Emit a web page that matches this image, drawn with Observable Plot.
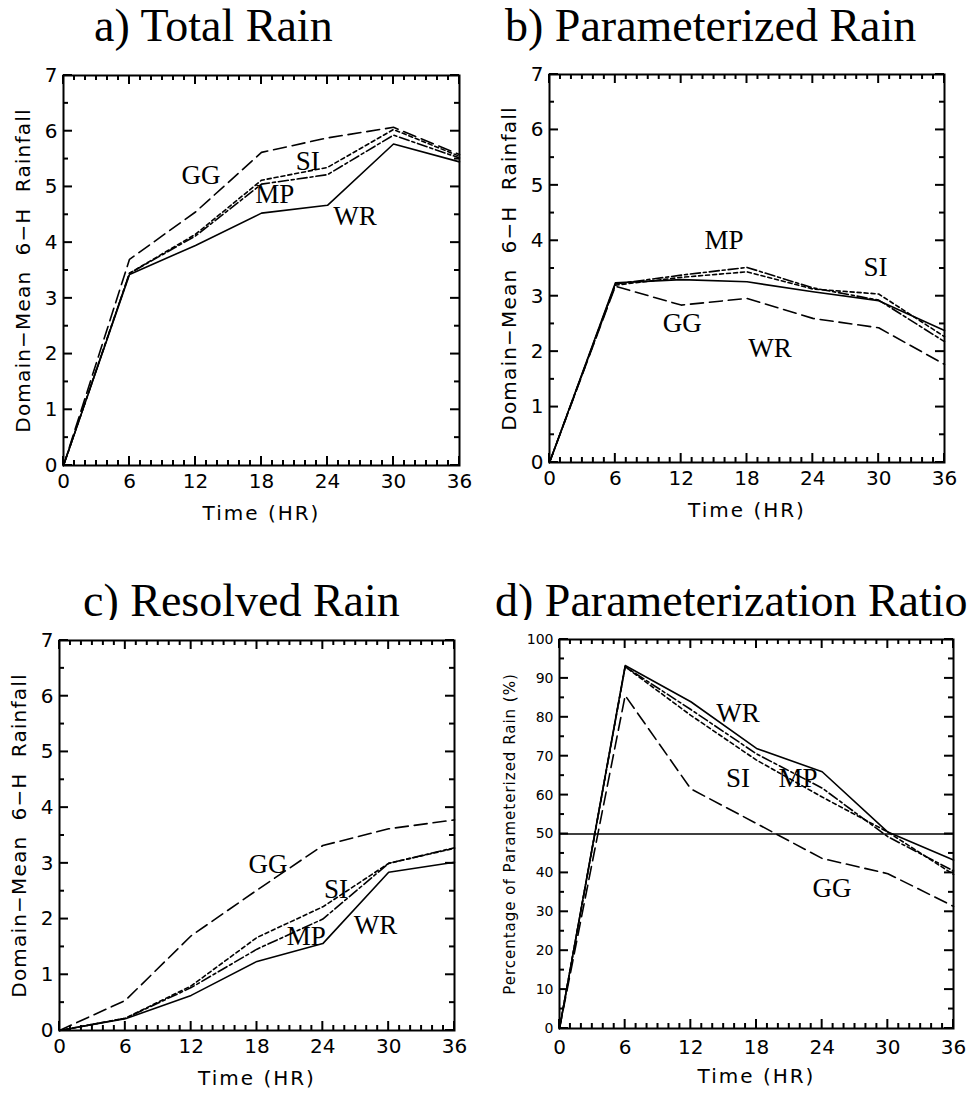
<!DOCTYPE html>
<html><head><meta charset="utf-8">
<script src="https://cdn.jsdelivr.net/npm/d3@7"></script>
<script src="https://cdn.jsdelivr.net/npm/@observablehq/plot@0.6"></script>
<style>
body{margin:0;background:#fff;width:974px;height:1094px;position:relative;overflow:hidden}
.title{position:absolute;font-family:"Liberation Serif","Times New Roman",serif;font-size:46px;line-height:46px;white-space:nowrap;color:#000}
.panel{position:absolute}
</style></head><body>
<div class="title" style="left:94px;top:3px">a) Total Rain</div>
<div class="title" style="left:505px;top:3px">b) Parameterized Rain</div>
<div class="title" style="left:83px;top:578px">c) Resolved Rain</div>
<div class="title" style="left:495px;top:578px">d) Parameterization Ratio</div>
<div id="pa" class="panel" style="left:0;top:60px"></div>
<div id="pb" class="panel" style="left:487px;top:60px"></div>
<div id="pc" class="panel" style="left:0;top:620px"></div>
<div id="pd" class="panel" style="left:487px;top:620px"></div>
<script>
// ---- data ----
const hours = [0, 6, 12, 18, 24, 30, 36];
const seriesNames = ["WR", "MP", "SI", "GG"];

const totalWR = [0, 3.43, 3.95, 4.53, 4.67, 5.77, 5.45];
const totalMP = [0, 3.45, 4.12, 5.05, 5.22, 5.93, 5.52];
const totalSI = [0, 3.45, 4.15, 5.12, 5.35, 6.03, 5.55];
const totalGG = [0, 3.70, 4.55, 5.62, 5.88, 6.07, 5.58];

const paramWR = [0, 3.24, 3.30, 3.26, 3.08, 2.92, 2.38];
const paramMP = [0, 3.22, 3.38, 3.52, 3.15, 2.93, 2.18];
const paramSI = [0, 3.20, 3.34, 3.44, 3.13, 3.04, 2.27];
const paramGG = [0, 3.18, 2.84, 2.96, 2.60, 2.43, 1.77];

const resolvedWR = [0, 0.21, 0.63, 1.24, 1.56, 2.84, 3.02];
const resolvedMP = [0, 0.22, 0.77, 1.46, 2.00, 3.00, 3.28];
const resolvedSI = [0, 0.22, 0.80, 1.67, 2.22, 3.00, 3.27];
const resolvedGG = [0, 0.54, 1.70, 2.52, 3.32, 3.62, 3.78];

const ratioWR = [0, 93.3, 84.0, 72.0, 66.0, 50.5, 43.3];
const ratioMP = [0, 93.0, 82.0, 70.6, 61.8, 49.3, 40.5];
const ratioSI = [0, 93.0, 80.5, 69.0, 59.5, 50.5, 39.6];
const ratioGG = [0, 85.6, 61.6, 52.7, 43.7, 39.8, 31.4];
const ratioRef = [50];

// tick values
const xMajor = [0, 6, 12, 18, 24, 30, 36];
const xMinor = d3.range(0, 37, 1).filter(v => v % 6 !== 0);
const rainMajor = [0, 1, 2, 3, 4, 5, 6, 7];
const rainMinor = [0.5, 1.5, 2.5, 3.5, 4.5, 5.5, 6.5];
const ratioMajor = [0, 10, 20, 30, 40, 50, 60, 70, 80, 90, 100];
const ratioMinor = [5, 15, 25, 35, 45, 55, 65, 75, 85, 95];

// curve label annotations (name, hour, value)
const labelsA = [["GG", 12.5, 5.06], ["SI", 22.2, 5.3], ["MP", 19.2, 4.72], ["WR", 26.5, 4.31]];
const labelsB = [["MP", 15.9, 3.86], ["SI", 29.7, 3.37], ["GG", 12.1, 2.35], ["WR", 20.1, 1.91]];
const labelsC = [["GG", 19.0, 2.82], ["SI", 25.2, 2.37], ["MP", 22.5, 1.53], ["WR", 28.8, 1.74]];
const labelsD = [["WR", 16.3, 78.7], ["SI", 16.3, 62.2], ["MP", 21.8, 62.2], ["GG", 24.9, 33.7]];

const dashes = {WR: null, MP: "10,3,3,3", SI: "4,3", GG: "13,6"};

function rows(vals) {
  return seriesNames.flatMap(s => hours.map((h, i) => ({series: s, t: h, v: vals[s][i]})));
}

function panel(o) {
  const innerH = o.height - o.mt - o.mb;
  const innerW = o.width - o.ml - o.mr;
  const data = rows(o.vals);
  const marks = [
    Plot.axisX(xMajor, {tickSize: 0, tickPadding: o.xPad, fontSize: 20, fontFamily: "DejaVu Sans", label: null, tickFormat: d3.format("d")}),
    Plot.axisY(o.yMajor, {tickSize: 0, tickPadding: 6, fontSize: o.yTickFont, fontFamily: "DejaVu Sans", label: null, tickFormat: d3.format("d")}),
    Plot.text(["Time (HR)"], {frameAnchor: "bottom", dy: 54, lineAnchor: "bottom", textAnchor: "middle", text: d => d, fontSize: 20, fontFamily: "DejaVu Sans"}),
    Plot.text([o.yLabel], {frameAnchor: "left", dx: o.yLabelDx, rotate: -90, textAnchor: "middle", lineAnchor: "middle", text: d => d, fontSize: o.yLabelFont, fontFamily: "DejaVu Sans"}),
  ];
  if (o.ref) marks.push(Plot.ruleY(o.ref, {stroke: "black", strokeWidth: 1.6}));
  for (const s of seriesNames) {
    marks.push(Plot.line(data.filter(d => d.series === s), {x: "t", y: "v", stroke: "black", strokeWidth: 1.6, strokeDasharray: dashes[s]}));
  }
  marks.push(Plot.text(o.labels, {x: d => d[1], y: d => d[2], text: d => d[0], lineAnchor: "bottom", fontSize: 27, fontFamily: "Liberation Serif"}));
  marks.push(Plot.frame({stroke: "black", strokeWidth: 2}));
  const svg = Plot.plot({
    width: o.width, height: o.height,
    marginTop: o.mt, marginRight: o.mr, marginBottom: o.mb, marginLeft: o.ml,
    x: {domain: [0, 36]},
    y: {domain: o.ydom},
    style: {background: "white", overflow: "visible", color: "black"},
    marks
  });
  d3.select(svg).selectAll("text").filter(function () { return this.textContent === "Time (HR)"; }).attr("letter-spacing", 2);
  d3.select(svg).selectAll("text").filter(function () { return this.textContent === o.yLabel; }).attr("letter-spacing", o.yLabelSpacing);

  // inward ticks on all four sides, positioned with the plot's own scales
  const sx = svg.scale("x"), sy = svg.scale("y");
  const X = v => sx.apply(v), Y = v => sy.apply(v);
  const left = o.ml, right = o.width - o.mr, top = o.mt, bottom = o.height - o.mb;
  const g = d3.select(svg).append("g").attr("stroke", "black").attr("stroke-width", 2).attr("aria-label", "inward ticks");
  const M = 9, m = 5;
  for (const [vals, len] of [[xMajor, M], [xMinor, m]]) {
    for (const v of vals) {
      g.append("line").attr("x1", X(v)).attr("x2", X(v)).attr("y1", bottom).attr("y2", bottom - len);
      g.append("line").attr("x1", X(v)).attr("x2", X(v)).attr("y1", top).attr("y2", top + len);
    }
  }
  for (const [vals, len] of [[o.yMajor, M], [o.yMinor, m]]) {
    for (const v of vals) {
      g.append("line").attr("y1", Y(v)).attr("y2", Y(v)).attr("x1", left).attr("x2", left + len);
      g.append("line").attr("y1", Y(v)).attr("y2", Y(v)).attr("x1", right).attr("x2", right - len);
    }
  }
  document.getElementById(o.el).appendChild(svg);
}

const rainLabel = "Domain\u2212Mean  6\u2212H  Rainfall";
panel({el: "pa", width: 480, height: 470, mt: 15, mr: 21, mb: 65, ml: 63, ydom: [0, 7], yMajor: rainMajor, yMinor: rainMinor,
  yLabel: rainLabel, yLabelFont: 20, yLabelDx: -40, yLabelSpacing: 1.2, yTickFont: 20, xPad: 8,
  vals: {WR: totalWR, MP: totalMP, SI: totalSI, GG: totalGG}, labels: labelsA});
panel({el: "pb", width: 487, height: 470, mt: 14, mr: 30, mb: 68, ml: 62, ydom: [0, 7], yMajor: rainMajor, yMinor: rainMinor,
  yLabel: rainLabel, yLabelFont: 20, yLabelDx: -40, yLabelSpacing: 1.2, yTickFont: 20, xPad: 8,
  vals: {WR: paramWR, MP: paramMP, SI: paramSI, GG: paramGG}, labels: labelsB});
panel({el: "pc", width: 480, height: 474, mt: 20, mr: 26, mb: 64, ml: 59, ydom: [0, 7], yMajor: rainMajor, yMinor: rainMinor,
  yLabel: rainLabel, yLabelFont: 20, yLabelDx: -40, yLabelSpacing: 1.2, yTickFont: 20, xPad: 8,
  vals: {WR: resolvedWR, MP: resolvedMP, SI: resolvedSI, GG: resolvedGG}, labels: labelsC});
panel({el: "pd", width: 487, height: 474, mt: 19, mr: 21, mb: 66, ml: 72, ydom: [0, 100], yMajor: ratioMajor, yMinor: ratioMinor,
  yLabel: "Percentage of Parameterized Rain (%)", yLabelFont: 15, yLabelDx: -49, yLabelSpacing: 1, yTickFont: 14, xPad: 11,
  vals: {WR: ratioWR, MP: ratioMP, SI: ratioSI, GG: ratioGG}, labels: labelsD, ref: ratioRef});
</script>
</body></html>
